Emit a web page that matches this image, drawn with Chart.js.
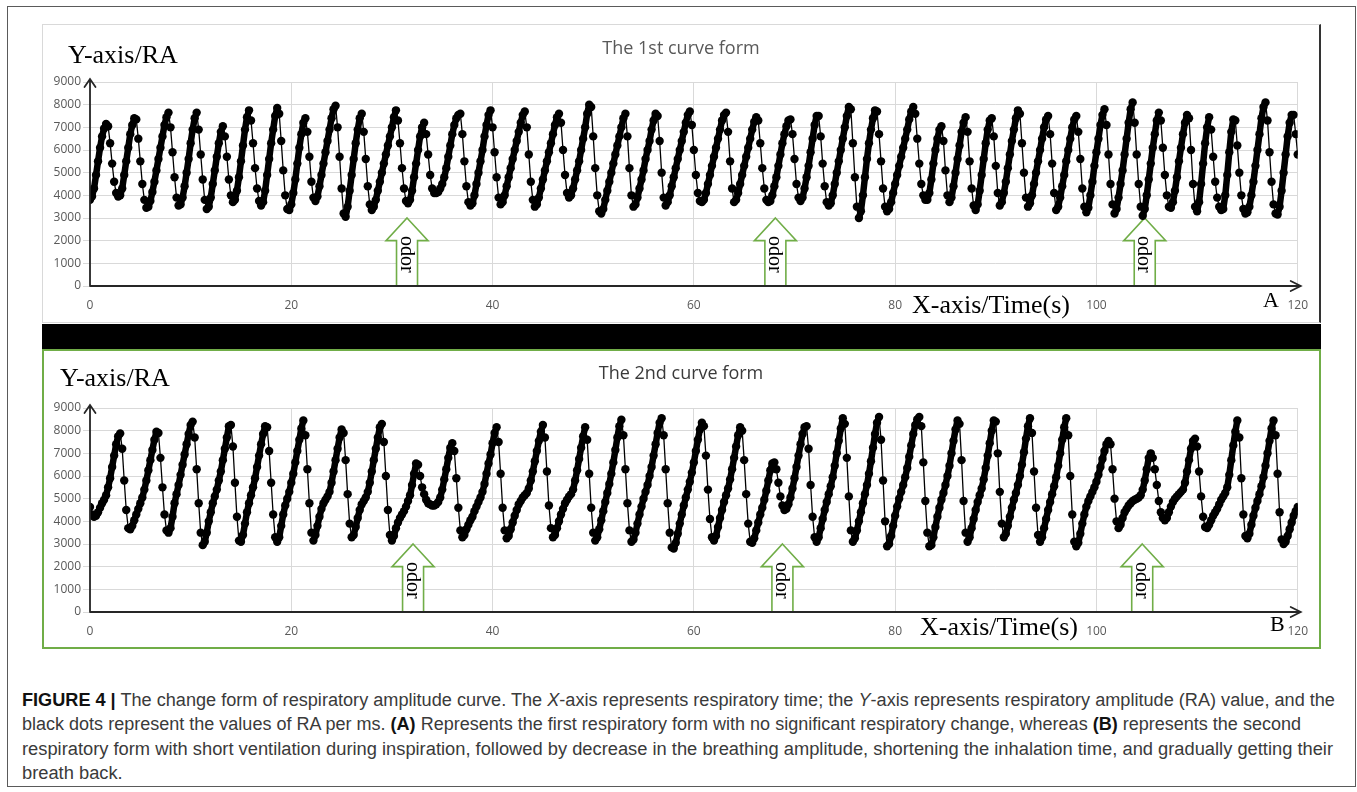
<!DOCTYPE html>
<html>
<head>
<meta charset="utf-8">
<script src="https://cdn.jsdelivr.net/npm/chart.js@4.4.0/dist/chart.umd.min.js"></script>
<style>
  body { margin: 0; background: #fff; width: 1357px; height: 792px; position: relative; overflow: hidden; }
  .abs { position: absolute; box-sizing: border-box; }
  #frame { left: 7px; top: 6px; width: 1349px; height: 781px; border: 1px solid #5a5a5a; }
  #panelA { left: 42px; top: 24px; width: 1279px; height: 299px; border: 1px solid #d9d9d9; border-right: 2px solid #333; }
  #bar { left: 42px; top: 324px; width: 1279px; height: 25px; background: #000; }
  #panelB { left: 42px; top: 349px; width: 1279px; height: 300px; border: 2px solid #70ad47; }
  canvas { position: absolute; }
  #chartA { left: 42px; top: 24px; }
  #chartB { left: 42px; top: 349px; }
  #caption { left: 22px; top: 688px; font-family: "Liberation Sans", Arial, sans-serif; font-size: 18px; line-height: 24.4px; color: #3a3a3a; }
  #caption .ln { display: block; white-space: nowrap; height: 24.4px; }
  #caption .ln span { display: inline-block; transform-origin: 0 50%; }
  #caption b { color: #111; }
</style>
</head>
<body>
<div id="frame" class="abs"></div>
<div id="panelA" class="abs"></div>
<div id="bar" class="abs"></div>
<div id="panelB" class="abs"></div>
<canvas id="chartA" width="1278" height="298"></canvas>
<canvas id="chartB" width="1278" height="299"></canvas>
<div id="caption" class="abs">
  <div class="ln"><span><b>FIGURE 4 |</b> The change form of respiratory amplitude curve. The <i>X</i>-axis represents respiratory time; the <i>Y</i>-axis represents respiratory amplitude (RA) value, and the</span></div>
  <div class="ln"><span>black dots represent the values of RA per ms. <b>(A)</b> Represents the first respiratory form with no significant respiratory change, whereas <b>(B)</b> represents the second</span></div>
  <div class="ln"><span>respiratory form with short ventilation during inspiration, followed by decrease in the breathing amplitude, shortening the inhalation time, and gradually getting their</span></div>
  <div class="ln"><span>breath back.</span></div>
</div>
<script>
// Respiratory amplitude (RA), one value every 0.2 s from 0 to 120 s
const SAMPLE_STEP = 0.2;

// Panel A: the 1st curve form
const raA = [
  3800,3950,4300,4900,5500,6100,6600,6950,7150,7050,
  6300,5400,4600,4100,3950,4000,4300,4900,5500,6100,
  6700,7100,7400,7350,6500,5500,4500,3800,3450,3500,
  3750,4150,4600,5100,5600,6100,6600,7100,7450,7650,
  7000,5900,4800,3900,3550,3600,3900,4400,5000,5600,
  6300,6900,7400,7650,6900,5800,4700,3800,3400,3500,
  3900,4500,5100,5700,6300,6800,7050,6600,5700,4700,
  4000,3700,3800,4200,4800,5500,6200,6900,7450,7750,
  7300,6300,5200,4300,3750,3550,3700,4200,4900,5600,
  6300,6900,7500,7850,7600,6400,5100,4000,3400,3350,
  3600,4100,4700,5400,6100,6700,7200,7400,6800,5700,
  4600,3900,3750,3950,4400,4900,5400,5900,6400,6900,
  7400,7800,7950,7000,5700,4300,3200,3050,3500,4200,
  4900,5600,6300,6900,7400,7600,6800,5600,4400,3600,
  3350,3500,3800,4200,4600,5000,5400,5800,6200,6600,
  7000,7450,7750,7300,6300,5200,4300,3750,3650,3800,
  4200,4800,5400,6000,6600,7000,7200,6700,5800,4900,
  4300,4100,4100,4150,4300,4500,4800,5200,5700,6200,
  6700,7100,7400,7550,7600,6700,5500,4400,3700,3550,
  3650,4000,4500,5000,5500,6000,6600,7100,7550,7750,
  7000,5900,4800,3900,3600,3700,4000,4400,4800,5200,
  5600,6000,6400,6800,7200,7550,7700,7000,5800,4600,
  3800,3500,3600,3900,4300,4700,5100,5500,5900,6300,
  6700,7100,7450,7600,7200,6000,4900,4100,3900,4000,
  4300,4700,5100,5500,6000,6500,7000,7600,8000,7900,
  6600,5200,4000,3300,3200,3400,3800,4200,4600,5000,
  5400,5800,6200,6600,7000,7400,7600,6600,5200,4000,
  3500,3600,3900,4300,4700,5100,5600,6000,6400,6900,
  7300,7600,7500,6400,5000,3900,3550,3700,4000,4400,
  4800,5200,5600,6000,6400,6800,7200,7550,7700,7100,
  6000,4900,4100,3750,3700,3800,4100,4500,4900,5300,
  5700,6100,6500,6900,7300,7550,7650,6800,5500,4300,
  3700,3800,4100,4500,4900,5300,5700,6100,6500,6900,
  7250,7450,7300,6300,5200,4300,3800,3700,3750,4000,
  4400,4800,5300,5800,6300,6700,7050,7300,7350,6700,
  5600,4500,3900,3750,3900,4300,4800,5300,5900,6500,
  7100,7500,7500,6600,5400,4400,3700,3550,3650,4000,
  4500,5000,5500,6000,6500,7000,7500,7900,7800,6300,
  4800,3500,3000,3300,4000,4800,5600,6300,6900,7400,
  7750,7700,6700,5500,4300,3500,3300,3400,3700,4100,
  4500,4900,5300,5700,6100,6500,6900,7350,7700,7900,
  7600,6500,5400,4500,4000,3800,3800,4100,4700,5400,
  6000,6500,6900,7050,6400,5100,4000,3700,3900,4400,
  5000,5600,6200,6800,7200,7450,6800,5500,4300,3550,
  3350,3600,4200,4900,5600,6300,6900,7300,7400,6600,
  5300,4100,3550,3700,4100,4600,5200,5800,6400,6900,
  7400,7750,7600,6300,5000,3900,3500,3650,4000,4500,
  5000,5500,6000,6500,7000,7350,7500,6700,5400,4100,
  3350,3500,3900,4400,4900,5500,6000,6500,7000,7350,
  7500,6800,5600,4300,3500,3250,3450,4000,4600,5300,
  5900,6500,7100,7550,7800,7100,5800,4500,3600,3200,
  3400,3900,4500,5100,5800,6500,7200,7800,8100,7200,
  5800,4500,3500,3100,3400,4000,4700,5400,6100,6700,
  7300,7650,7300,6100,4900,4000,3500,3450,3700,4200,
  4800,5500,6100,6700,7200,7550,7400,6000,4500,3500,
  3300,3700,4500,5400,6300,7000,7450,6900,5700,4600,
  3900,3500,3350,3400,4000,4900,5900,6800,7350,7300,
  6200,5000,4000,3400,3200,3250,3500,4000,4600,5300,
  6000,6700,7400,7900,8100,7300,5900,4600,3600,3200,
  3150,3500,4200,5000,5800,6600,7200,7550,7550,6700,
  5800
];

// Panel B: the 2nd curve form
const raB = [
  4630,4300,4200,4250,4400,4600,4800,4950,5150,5500,
  5900,6400,6900,7400,7750,7880,7200,5800,4500,3700,
  3650,3800,4050,4300,4550,4800,5050,5400,5800,6250,
  6700,7150,7600,7950,7900,6800,5500,4300,3600,3500,
  3700,4200,4800,5200,5600,6050,6500,6950,7400,7850,
  8250,8400,7700,6300,4800,3500,2950,3100,3500,4000,
  4400,4800,5100,5400,5800,6200,6700,7200,7700,8200,
  8250,7300,5700,4200,3150,3100,3400,3900,4400,4800,
  5150,5500,5900,6400,6900,7400,7850,8200,8150,7100,
  5700,4300,3300,3100,3300,3800,4300,4700,5000,5300,
  5700,6100,6600,7100,7600,8100,8450,7800,6300,4800,
  3500,3150,3400,3800,4200,4550,4800,4950,5100,5300,
  5700,6200,6700,7200,7700,8050,7900,6700,5200,3900,
  3300,3400,3750,4150,4500,4750,4900,5050,5300,5700,
  6200,6700,7200,7700,8150,8300,7500,6000,4500,3400,
  3150,3350,3700,3950,4150,4300,4450,4650,4900,5150,
  5600,6100,6550,6500,6000,5500,5200,4950,4800,4750,
  4700,4700,4750,4850,5050,5400,5850,6300,6800,7250,
  7450,7100,5900,4600,3600,3300,3400,3650,3850,4050,
  4200,4450,4650,4850,5050,5300,5650,6100,6550,6950,
  7450,7900,8150,7500,6100,4600,3600,3250,3350,3650,
  3950,4250,4500,4750,4900,5050,5150,5250,5450,5800,
  6200,6650,7100,7550,7950,8250,7700,6200,4700,3700,
  3300,3400,3700,4000,4300,4550,4800,4950,5100,5200,
  5400,5800,6250,6750,7250,7750,8150,7600,6100,4600,
  3500,3150,3300,3650,4050,4450,4850,5250,5650,6100,
  6600,7150,7700,8200,8480,7800,6300,4800,3600,3100,
  3200,3500,3900,4300,4650,5000,5300,5600,6000,6400,
  6900,7400,7900,8350,8550,7800,6300,4800,3500,2850,
  2800,3050,3450,3900,4300,4700,5050,5400,5750,6150,
  6600,7100,7600,8050,8350,8200,6900,5400,4100,3300,
  3150,3350,3750,4150,4500,4850,5150,5450,5850,6300,
  6800,7300,7800,8150,8000,6700,5200,3900,3100,3050,
  3250,3600,3950,4300,4600,4950,5350,5800,6250,6550,
  6600,6300,5700,5100,4700,4500,4550,4750,5050,5450,
  5900,6400,6900,7400,7850,8150,8200,7200,5600,4200,
  3300,3100,3300,3700,4100,4500,4850,5200,5550,5950,
  6450,7000,7550,8100,8550,8300,6800,5100,3600,3100,
  3250,3600,4000,4400,4800,5200,5600,6100,6650,7250,
  7850,8350,8600,7600,5800,4000,2900,3000,3350,3800,
  4250,4650,5000,5300,5600,5950,6350,6850,7350,7850,
  8250,8500,8600,8200,6600,4900,3500,2900,2950,3300,
  3750,4200,4600,4950,5250,5600,6000,6450,7000,7550,
  8050,8450,8300,6700,4900,3500,3100,3300,3700,4100,
  4500,4850,5150,5450,5850,6350,6900,7450,8000,8450,
  8400,7000,5300,3900,3300,3450,3800,4200,4600,4950,
  5250,5600,6000,6500,7050,7650,8200,8550,7900,6200,
  4600,3400,3100,3300,3700,4100,4500,4850,5200,5550,
  5950,6450,7000,7600,8150,8550,7800,6000,4300,3100,
  2900,3050,3450,3900,4300,4650,4900,5100,5300,5500,
  5750,6050,6400,6750,7100,7400,7550,7400,6300,5000,
  4000,3700,3850,4150,4400,4550,4700,4800,4900,4950,
  5000,5050,5150,5400,5800,6300,6800,7000,6800,6300,
  5600,4900,4400,4150,4050,4150,4400,4650,4850,5000,
  5100,5200,5300,5400,5700,6200,6700,7200,7550,7650,
  7300,6200,5100,4200,3750,3700,3850,4050,4250,4400,
  4550,4750,4950,5100,5250,5500,6050,6700,7350,7950,
  8450,7700,5900,4300,3350,3250,3450,3850,4250,4600,
  4900,5200,5550,5950,6450,7000,7550,8100,8450,7800,
  6100,4400,3200,3000,3100,3350,3650,3950,4250,4450,
  4630
];

// Times (s) at which the odor was given, one list per panel
const odorA = [31.5, 68.1, 104.8];
const odorB = [32.1, 68.8, 104.55];

// Axis ranges and tick steps
const xMax = 120, xStep = 20;
const yMax = 9000, yStep = 1000;

// odor arrow outline in RA units: tip, neck of the head, and text centre
const ARROW_TIP = 3000, ARROW_NECK = 2000, ARROW_TEXT = 1400;

const toPoints = ra => ra.map((v, i) => ({ x: +(i * SAMPLE_STEP).toFixed(1), y: v }));

const tickFont = { family: 'Open Sans', size: 12 };

const decorPlugin = {
  id: 'figureDecor',
  beforeDatasetsDraw(chart, args, o) {
    const { ctx, scales: { x, y } } = chart;
    ctx.save();
    o.odor.forEach(t => {
      const cx = x.getPixelForValue(t);
      const tip = y.getPixelForValue(ARROW_TIP);
      const neck = y.getPixelForValue(ARROW_NECK);
      const base = y.getPixelForValue(0);
      ctx.beginPath();
      ctx.moveTo(cx, tip);
      ctx.lineTo(cx + 21, neck);
      ctx.lineTo(cx + 10.5, neck);
      ctx.lineTo(cx + 10.5, base);
      ctx.lineTo(cx - 10.5, base);
      ctx.lineTo(cx - 10.5, neck);
      ctx.lineTo(cx - 21, neck);
      ctx.closePath();
      ctx.fillStyle = '#fff';
      ctx.fill();
      ctx.strokeStyle = '#70ad47';
      ctx.lineWidth = 1.6;
      ctx.stroke();

      ctx.save();
      ctx.translate(cx - 1, y.getPixelForValue(ARROW_TEXT));
      ctx.rotate(Math.PI / 2);
      ctx.font = '20px "Liberation Serif"';
      ctx.fillStyle = '#000';
      ctx.textAlign = 'center';
      ctx.textBaseline = 'middle';
      ctx.fillText('odor', 0, 0);
      ctx.restore();
    });
    ctx.restore();
  },
  afterDatasetsDraw(chart) {
    const { ctx, chartArea: a } = chart;
    ctx.save();
    ctx.strokeStyle = '#262626';
    ctx.lineWidth = 1.8;
    ctx.lineCap = 'round';
    // y axis with arrow
    ctx.beginPath();
    ctx.moveTo(a.left, a.bottom);
    ctx.lineTo(a.left, a.top - 3);
    ctx.moveTo(a.left - 5.5, a.top + 5);
    ctx.lineTo(a.left, a.top - 3);
    ctx.lineTo(a.left + 5.5, a.top + 5);
    // x axis with arrow
    ctx.moveTo(a.left, a.bottom);
    ctx.lineTo(a.right + 3, a.bottom);
    ctx.moveTo(a.right - 7, a.bottom - 5);
    ctx.lineTo(a.right + 3, a.bottom);
    ctx.lineTo(a.right - 7, a.bottom + 5);
    ctx.stroke();
    ctx.restore();
  },
  afterDraw(chart, args, o) {
    const { ctx } = chart;
    ctx.save();
    ctx.fillStyle = '#000';
    ctx.textBaseline = 'alphabetic';
    ctx.textAlign = 'left';
    ctx.font = '26px "Liberation Serif"';
    ctx.fillText('Y-axis/RA', o.yTitle[0], o.yTitle[1]);
    ctx.fillText('X-axis/Time(s)', o.xTitle[0], o.xTitle[1]);
    ctx.font = '22px "Liberation Serif"';
    ctx.fillText(o.letter, o.letterPos[0], o.letterPos[1]);
    ctx.font = '18px "Open Sans"';
    ctx.fillStyle = o.titleColor;
    ctx.textAlign = 'center';
    ctx.textBaseline = 'middle';
    ctx.fillText(o.title, 639, 25);
    ctx.restore();
  }
};

function makeChart(canvasId, ra, odor, topPad, decor) {
  const ctx = document.getElementById(canvasId).getContext('2d');
  return new Chart(ctx, {
    type: 'line',
    data: {
      datasets: [{
        data: toPoints(ra),
        borderColor: '#000',
        borderWidth: 1.3,
        borderJoinStyle: 'round',
        borderCapStyle: 'round',
        pointRadius: 4.2,
        pointHoverRadius: 4.2,
        pointBackgroundColor: '#000',
        pointBorderWidth: 0,
        tension: 0,
        segment: {
          // rising parts are drawn as a thick stroke, like the packed dots in the figure
          borderWidth: c => (c.p1.parsed.y > c.p0.parsed.y ? 6.5 : 1.3)
        }
      }]
    },
    options: {
      responsive: false,
      animation: false,
      devicePixelRatio: 1,
      events: [],
      layout: { padding: { top: topPad, right: 18, left: 0, bottom: 0 } },
      plugins: {
        legend: { display: false },
        tooltip: { enabled: false },
        figureDecor: Object.assign({ odor: odor }, decor)
      },
      scales: {
        x: {
          type: 'linear',
          min: 0,
          max: xMax,
          ticks: { stepSize: xStep, color: '#595959', font: tickFont, padding: 12, maxRotation: 0, callback: v => String(v) },
          grid: { color: '#d9d9d9', drawTicks: false },
          border: { display: false },
          afterFit: s => { s.height = 36; }
        },
        y: {
          min: 0,
          max: yMax,
          ticks: { stepSize: yStep, color: '#595959', font: tickFont, padding: 2, callback: v => String(v) },
          grid: { color: '#d9d9d9', tickLength: 7, tickColor: '#d9d9d9' },
          border: { display: false },
          afterFit: s => { s.width = 48; }
        }
      }
    },
    plugins: [decorPlugin]
  });
}

makeChart('chartA', raA, odorA, 58, {
  title: 'The 1st curve form', titleColor: '#595959',
  yTitle: [26, 39], xTitle: [870, 289], letter: 'A', letterPos: [1221, 283]
});
makeChart('chartB', raB, odorB, 59, {
  title: 'The 2nd curve form', titleColor: '#3a3a3a',
  yTitle: [18, 37], xTitle: [878, 286], letter: 'B', letterPos: [1228, 282]
});

// stretch caption lines to the widths they take in the figure
const capWidths = [1313, 1279, 1311];
let capScale = 1;
document.querySelectorAll('#caption .ln span').forEach((s, i) => {
  const w = s.getBoundingClientRect().width;
  if (capWidths[i]) capScale = capWidths[i] / w;
  s.style.transform = 'scaleX(' + capScale.toFixed(4) + ')';
});
</script>
</body>
</html>
